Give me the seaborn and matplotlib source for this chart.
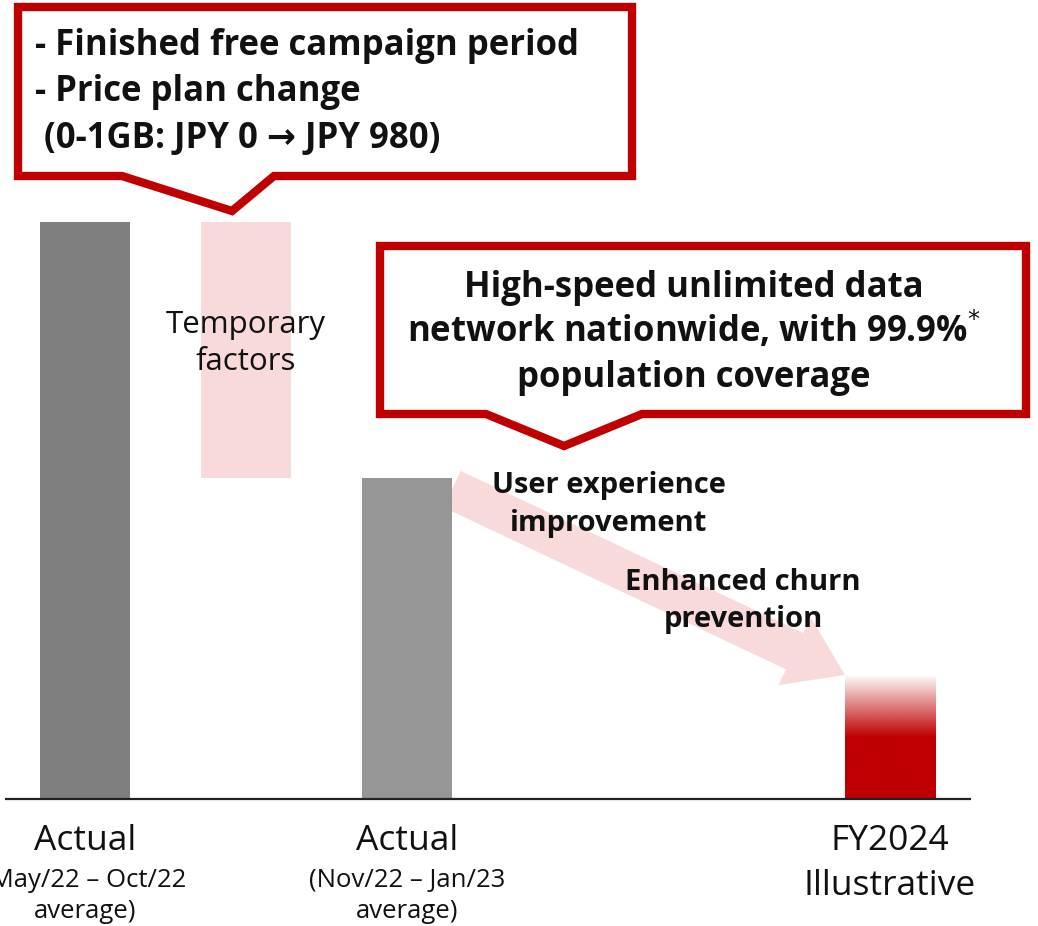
import numpy as np
import pandas as pd
import matplotlib
matplotlib.use("Agg")
import matplotlib.pyplot as plt
import matplotlib.transforms as mtransforms
from matplotlib.patches import Polygon, FancyArrowPatch, ArrowStyle
import seaborn as sns

# ---- data -------------------------------------------------------------
periods = ["Actual (May/22 – Oct/22 average)",
           "Actual (Nov/22 – Jan/23 average)",
           "FY2024 Illustrative"]
positions = [0, 2, 5]
values = [100.0, 55.6, 21.5]          # relative level
bar_colors = ["#7f7f7f", "#969696", "#c00000"]
label_main = [["Actual"], ["Actual"], ["FY2024", "Illustrative"]]
label_sub = [["(May/22 – Oct/22", "average)"], ["(Nov/22 – Jan/23", "average)"], []]

callout_left = ["- Finished free campaign period", "- Price plan change",
                " (0-1GB: JPY 0 → JPY 980)"]
callout_right = ["High-speed unlimited data",
                 "network nationwide, with 99.9%$^{*}$",
                 "population coverage"]

RED = "#c00000"
PINK = "#f9dada"
INK = "#111111"

sns.set_theme(style="white")
plt.rcParams["font.family"] = ["Open Sans", "DejaVu Sans"]

W, H = 1038, 926
fig = plt.figure(figsize=(W / 100, H / 100), dpi=100)
ax = fig.add_axes([0, 0, 1, 1])
ax.set_axis_off()

df = pd.DataFrame({"period": periods, "pos": positions, "value": values})
sns.barplot(data=df, x="pos", y="value", hue="period", palette=bar_colors,
            native_scale=True, width=0.28, saturation=1, linewidth=0,
            legend=False, ax=ax, zorder=3)

# locate bars by their centre
bars = {}
for p in ax.patches:
    c = p.get_x() + p.get_width() / 2
    for pos in positions:
        if abs(c - pos) < 0.3:
            bars[pos] = p
bw = bars[positions[0]].get_width()

# temporary drop drawn as floating bar between the two actuals
ax.bar((positions[0] + positions[1]) / 2, values[0] - values[1],
       bottom=values[1], width=bw, color=PINK, linewidth=0, zorder=2)

# gradient fill for the illustrative bar
p4 = bars[positions[2]]
p4.set_facecolor((0, 0, 0, 0))
t = np.linspace(0, 1, 256)
alpha = np.clip((1 - t) / 0.5, 0, 1)
rgba = np.zeros((256, 1, 4))
rgba[..., :3] = matplotlib.colors.to_rgb(RED)
rgba[:, 0, 3] = alpha
im = ax.imshow(rgba, extent=(p4.get_x(), p4.get_x() + bw, 0, values[2]),
               origin="lower", aspect="auto", zorder=3, interpolation="bilinear")
im.set_clip_path(p4)

# arrow from current level down to target
p3 = bars[positions[1]]
arrow = FancyArrowPatch(
    posA=(p3.get_x() + bw, values[1] - 1.9),
    posB=(p4.get_x(), values[2]),
    arrowstyle=ArrowStyle.Simple(head_length=40, head_width=54, tail_width=29),
    mutation_scale=1, shrinkA=0, shrinkB=0, color=PINK, linewidth=0, zorder=1.5)
ax.add_patch(arrow)

# baseline
ax.hlines(0, -0.5, 5.5, color="#222222", linewidth=1.6, zorder=4)

ax.set_xlim(-85 / 161, (W - 85) / 161)
ax.set_ylim(-(H - 799) / 5.77, 799 / 5.77)

# pixel transform (origin top-left)
pix = mtransforms.Affine2D().scale(1 / W, -1 / H).translate(0, 1) + fig.transFigure
xpix = mtransforms.blended_transform_factory(ax.transData, pix)

# category labels
for pos, mains, subs in zip(positions, label_main, label_sub):
    for i, m in enumerate(mains):
        ax.text(pos, 850 + 45 * i, m, transform=xpix, ha="center",
                va="baseline", fontsize=25.5, color=INK)
    for i, s in enumerate(subs):
        ax.text(pos, 887 + 31 * i, s, transform=xpix, ha="center",
                va="baseline", fontsize=18.5, color=INK)

for i, s in enumerate(["Temporary", "factors"]):
    ax.text((positions[0] + positions[1]) / 2, 333 + 37 * i, s, transform=xpix,
            ha="center", va="baseline", fontsize=22.5, color=INK, zorder=5)

for i, s in enumerate(["User experience", "improvement"]):
    ax.text(609, 493 + 38 * i, s, transform=pix, ha="center", va="baseline",
            fontsize=21, fontweight="bold", color=INK, zorder=5)
for i, s in enumerate(["Enhanced churn", "prevention"]):
    ax.text(743, 590 + 37 * i, s, transform=pix, ha="center", va="baseline",
            fontsize=21, fontweight="bold", color=INK, zorder=5)

# callout boxes
c1 = [(18, 7), (632, 7), (632, 176), (274, 176), (232, 211), (122, 176), (18, 176)]
c2 = [(380, 246), (1026, 246), (1026, 414), (642, 414), (564, 446), (486, 414), (380, 414)]
for verts in (c1, c2):
    ax.add_patch(Polygon(verts, closed=True, transform=pix, facecolor="white",
                         edgecolor=RED, linewidth=6, joinstyle="miter", zorder=6))

for i, s in enumerate(callout_left):
    ax.text(35, 55 + 46.5 * i, s, transform=pix, ha="left", va="baseline",
            fontsize=25, fontweight="bold", color=INK, zorder=7)
for i, s in enumerate(callout_right):
    ax.text(694, 297 + 45 * i, s, transform=pix, ha="center", va="baseline",
            fontsize=25, fontweight="bold", color=INK, zorder=7)

fig.savefig("out.png", dpi=100)
